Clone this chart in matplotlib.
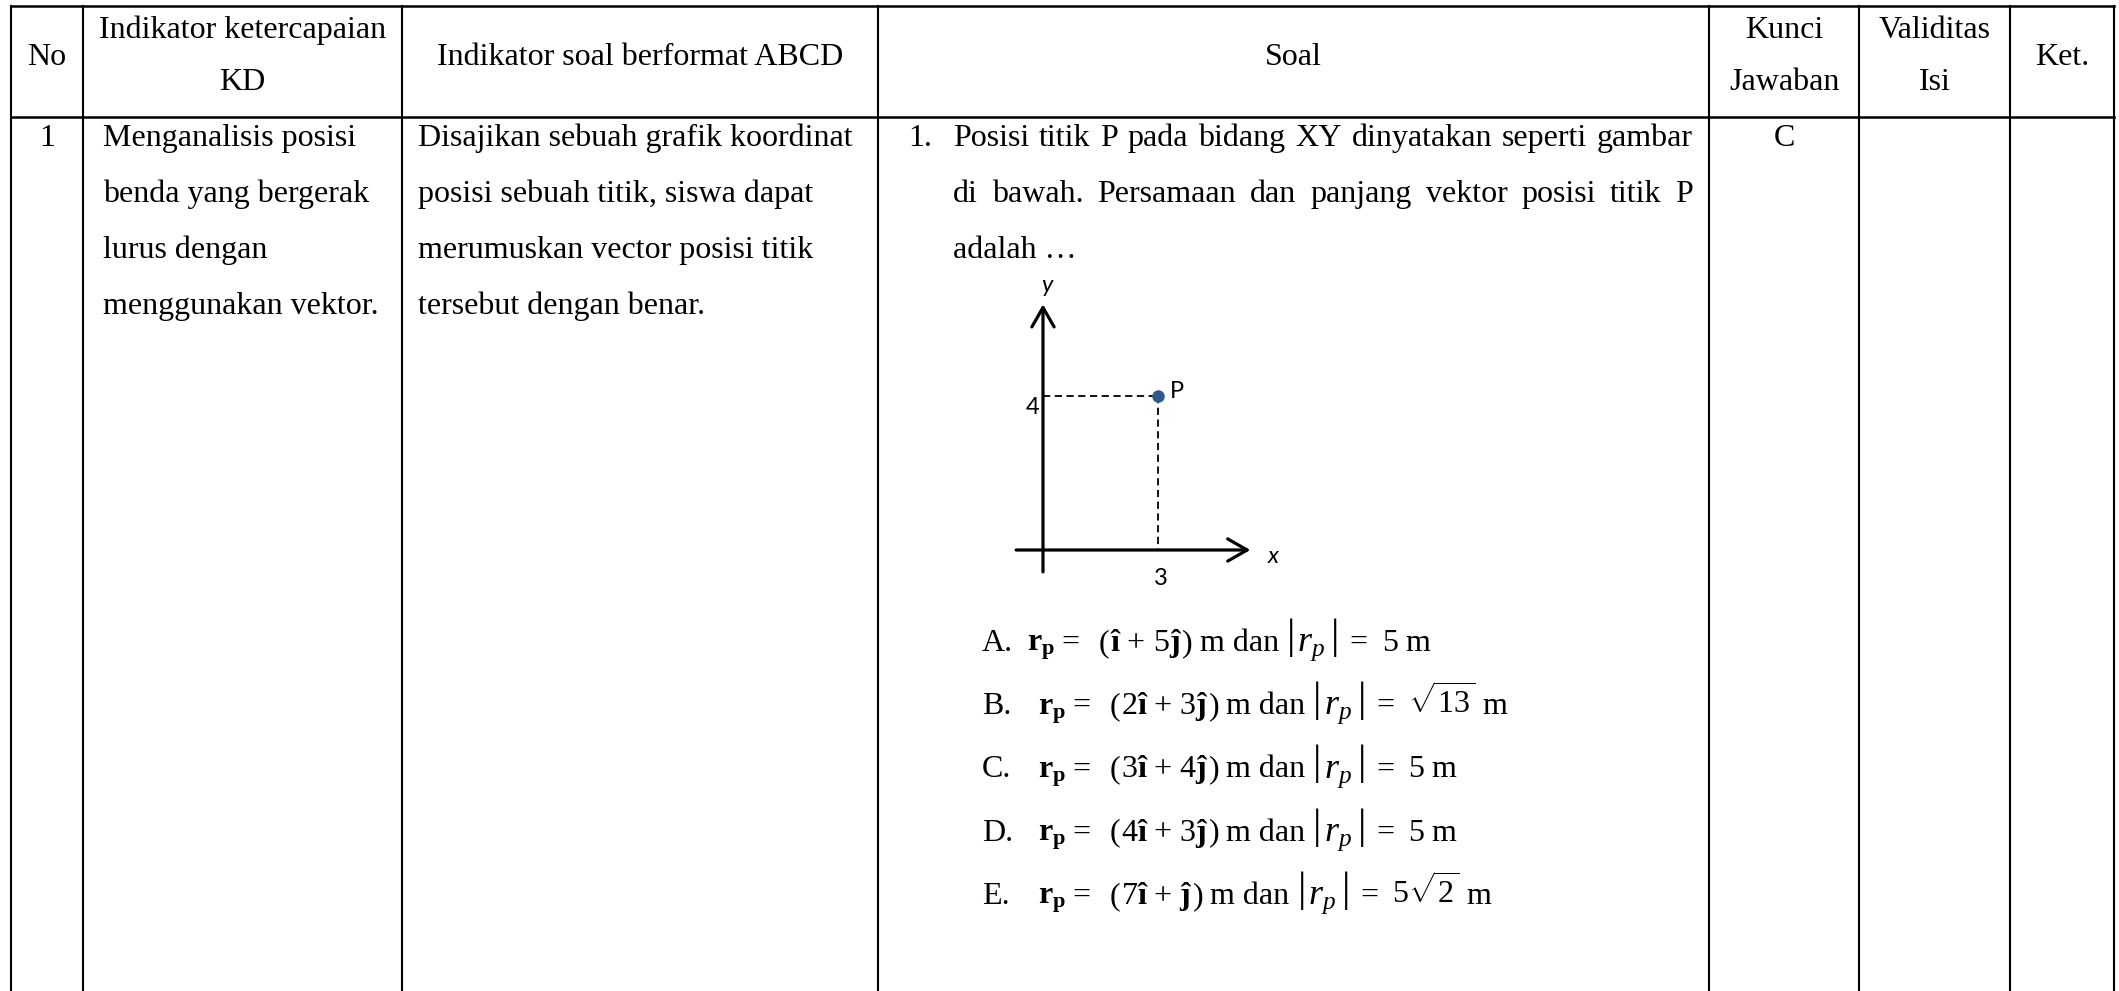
import matplotlib.pyplot as plt

plt.rcParams['font.family'] = ['Liberation Serif', 'DejaVu Serif']
plt.rcParams['mathtext.fontset'] = 'custom'
plt.rcParams['mathtext.rm'] = 'Liberation Serif'
plt.rcParams['mathtext.it'] = 'Liberation Serif:italic'
plt.rcParams['mathtext.bf'] = 'Liberation Serif:bold'

W, H = 2119, 991

# isi tabel
headers = [['No'], ['Indikator ketercapaian', 'KD'], ['Indikator soal berformat ABCD'],
           ['Soal'], ['Kunci', 'Jawaban'], ['Validitas', 'Isi'], ['Ket.']]
row_no = '1'
kd_lines = ['Menganalisis posisi', 'benda yang bergerak', 'lurus dengan', 'menggunakan vektor.']
ind_lines = ['Disajikan sebuah grafik koordinat', 'posisi sebuah titik, siswa dapat',
             'merumuskan vector posisi titik', 'tersebut dengan benar.']
soal_no = '1.'
soal_lines = ['Posisi titik P pada bidang XY dinyatakan seperti gambar',
              'di bawah. Persamaan dan panjang vektor posisi titik P',
              'adalah …']
kunci = 'C'

# pilihan jawaban
opt_letters = ['A.', 'B.', 'C.', 'D.', 'E.']
opt_i = [1, 2, 3, 4, 7]
opt_j = [5, 3, 4, 3, 1]
opt_mag = ['5', r'\sqrt{13}', '5', '5', r'5\sqrt{2}']

# titik P pada grafik
p_x, p_y = 3, 4
p_label = 'P'

# layout (piksel)
col_edges = [11, 83, 402, 878, 1709, 1859, 2010, 2114]
top, head_bot = 6, 117
line_h = 56
body_base = 146
opt_base = 651
opt_step = 63.2
opt_fx = [1027, 1038, 1038, 1038, 1038]
FS = 23

fig = plt.figure(figsize=(W / 100, H / 100), dpi=100)
ax = fig.add_axes([0, 0, 1, 1])
ax.set_xlim(0, W)
ax.set_ylim(H, 0)
ax.axis('off')
renderer = fig.canvas.get_renderer()

# garis tabel
ax.plot([col_edges[0], col_edges[-1]], [top, top], color='black', lw=1.8)
ax.plot([col_edges[0], col_edges[-1]], [head_bot, head_bot], color='black', lw=1.8)
for x in col_edges:
    ax.plot([x, x], [top, H], color='black', lw=1.5)

# header
for i, lines in enumerate(headers):
    cx = (col_edges[i] + col_edges[i + 1]) / 2
    if len(lines) == 1:
        ax.text(cx, 65, lines[0], ha='center', va='baseline', fontsize=FS)
    else:
        ax.text(cx, 38, lines[0], ha='center', va='baseline', fontsize=FS)
        ax.text(cx, 90, lines[1], ha='center', va='baseline', fontsize=FS)

ax.text((col_edges[0] + col_edges[1]) / 2, body_base, row_no, ha='center', va='baseline', fontsize=FS)
ax.text((col_edges[4] + col_edges[5]) / 2, body_base, kunci, ha='center', va='baseline', fontsize=FS)
for k, s in enumerate(kd_lines):
    ax.text(103, body_base + k * line_h, s, va='baseline', fontsize=FS)
for k, s in enumerate(ind_lines):
    ax.text(418, body_base + k * line_h, s, va='baseline', fontsize=FS)


def width(t):
    return t.get_window_extent(renderer).width


def justify(text, x0, x1, y):
    words = text.split()
    arts = [ax.text(x0, y, w, va='baseline', fontsize=FS) for w in words]
    widths = [width(a) for a in arts]
    gap = (x1 - x0 - sum(widths)) / (len(words) - 1)
    x = x0
    for a, w in zip(arts, widths):
        a.set_x(x)
        x += w + gap


def flow(x, y, pieces):
    # pieces: (teks, jarak sebelum, ukuran, geser vertikal)
    for s, gap, size, dy in pieces:
        x += gap
        t = ax.text(x, y + dy, s, va='baseline', fontsize=size)
        x += width(t)


ax.text(908, body_base, soal_no, va='baseline', fontsize=FS)
for k, s in enumerate(soal_lines):
    y = body_base + k * line_h
    if k < len(soal_lines) - 1:
        justify(s, 953, 1693, y)
    else:
        ax.text(953, y, s, va='baseline', fontsize=FS)

# opsi
for k in range(len(opt_letters)):
    y = opt_base + k * opt_step
    a = '' if opt_i[k] == 1 else str(opt_i[k])
    b = '' if opt_j[k] == 1 else str(opt_j[k])
    ax.text(982, y, opt_letters[k], va='baseline', fontsize=FS)
    flow(opt_fx[k], y, [
        (r'$\mathbf{r_p}$', 0, FS, 0),
        ('=', 6, FS, 0),
        ('(', 20, FS, 0),
        ('$' + a + r'\mathbf{î}$', 0, FS, 0),
        ('+', 5, FS, 0),
        ('$' + b + r'\mathbf{ĵ}$', 8, FS, 0),
        (')', 0, FS, 0),
        ('m dan', 7, FS, 0),
        ('|', 8, 30, -3),
        (r'$r_p$', 2, 26, 0),
        ('|', 6, 30, -3),
        ('=', 10, FS, 0),
        ('$' + opt_mag[k] + '$', 14, FS, 0),
        ('m', 7, FS, 0),
    ])

# grafik koordinat
ox, oy, sc = 1043, 550, 38.4
gx0, gx1, gy0, gy1 = -1, 6.5, -1, 7.5
gax = fig.add_axes([(ox + gx0 * sc) / W, (H - oy + gy0 * sc) / H,
                    (gx1 - gx0) * sc / W, (gy1 - gy0) * sc / H])
gax.set_xlim(gx0, gx1)
gax.set_ylim(gy0, gy1)
gax.axis('off')
gax.patch.set_alpha(0)

arrow = dict(arrowstyle='->,head_length=0.7,head_width=0.4', lw=2.3, color='black',
             mutation_scale=20, shrinkA=0, shrinkB=0)
gax.annotate('', xy=(5.4, 0), xytext=(-0.7, 0), arrowprops=arrow)
gax.annotate('', xy=(0, 6.4), xytext=(0, -0.57), arrowprops=arrow)
gax.plot([0, p_x], [p_y, p_y], color='black', lw=1.3, linestyle=(0, (4, 2.5)))
gax.plot([p_x, p_x], [p_y, 0], color='black', lw=1.3, linestyle=(0, (4, 2.5)))
gax.plot([p_x], [p_y], 'o', color='#2E5A8C', markersize=8)

sans = ['Lato', 'DejaVu Sans']
gax.text(-0.27, p_y - 0.3, str(p_y), ha='center', va='center', fontsize=17, family=sans)
gax.text(p_x + 0.07, -0.73, str(p_x), ha='center', va='center', fontsize=17, family=sans)
gax.text(p_x + 0.5, p_y + 0.12, p_label, ha='center', va='center', fontsize=17, family=sans)
gax.text(0.1, 6.9, 'y', ha='center', va='center', fontsize=17, family=sans, style='italic')
gax.text(6.0, -0.18, 'x', ha='center', va='center', fontsize=17, family=sans, style='italic')

fig.savefig('out.png', dpi=100)
